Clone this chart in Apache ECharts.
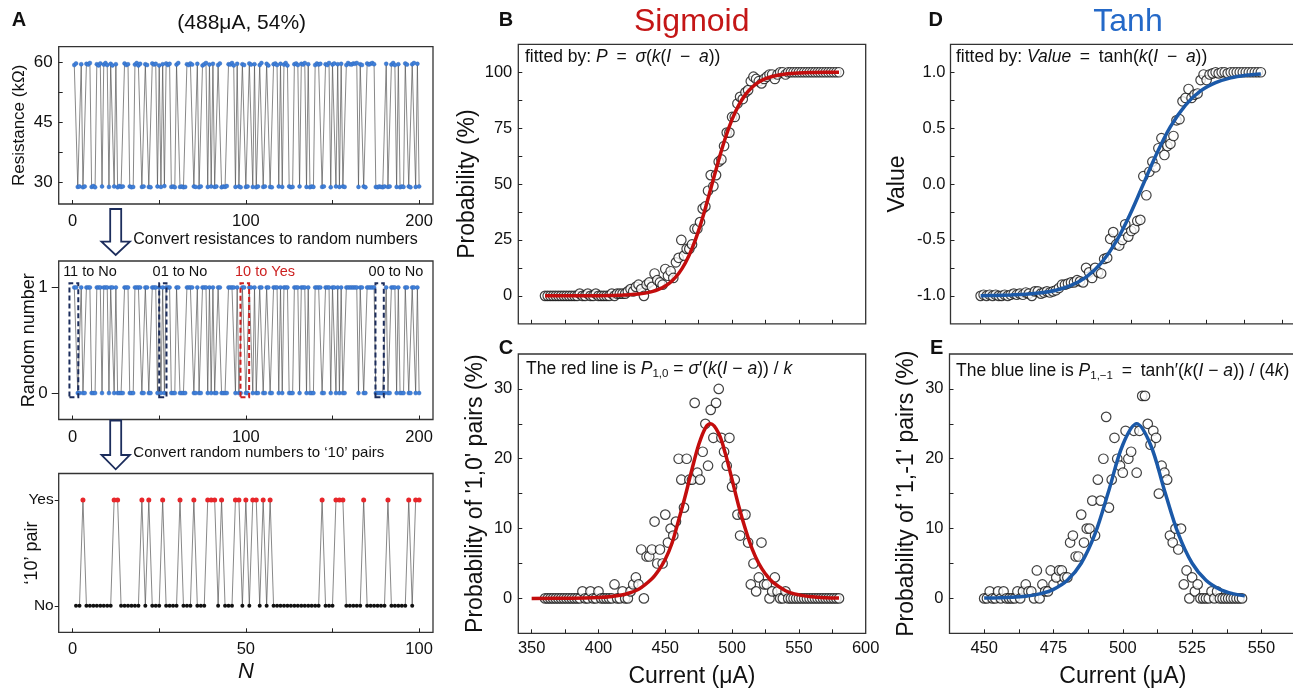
<!DOCTYPE html>
<html><head><meta charset="utf-8">
<script src="https://cdn.jsdelivr.net/npm/echarts@6/dist/echarts.min.js"></script>
<style>html,body{margin:0;padding:0;background:#fff}#c{width:1293px;height:688px}</style>
</head><body><div id="c"></div><script>
// ---------------- data ----------------
const resistance = [
59.4,59.8,28.8,28.9,59.6,28.7,28.9,59.7,59.5,59.9,28.8,29.0,28.7,59.6,59.3,59.8,28.9,59.5,59.9,59.4,
28.8,59.7,59.3,28.9,59.6,28.7,29.0,28.8,28.9,59.8,59.4,59.6,28.9,28.7,28.8,59.5,59.9,59.3,59.7,28.8,
28.9,59.6,59.4,28.8,28.7,59.8,59.5,59.7,28.9,59.3,28.8,59.6,29.0,59.8,59.4,59.7,28.8,28.9,28.7,59.5,
59.9,28.8,28.9,28.7,28.8,59.6,59.4,59.8,59.5,28.9,28.8,59.7,28.7,28.9,59.3,59.6,59.9,28.8,59.5,28.9,
59.7,28.8,28.9,59.4,59.8,28.7,28.9,28.8,29.0,59.6,59.5,59.9,59.3,28.8,59.7,28.9,28.7,59.6,59.4,28.8,
28.9,59.8,59.5,28.8,59.6,28.7,28.9,59.4,59.9,28.8,28.9,59.7,59.3,28.8,28.7,59.6,59.8,59.4,28.9,59.7,
28.8,59.5,59.9,59.3,28.9,28.7,28.8,59.6,59.8,59.4,28.9,59.7,59.5,59.9,28.8,59.6,28.7,28.9,28.8,59.4,
59.8,59.5,59.7,28.8,28.9,59.6,59.4,59.9,28.7,59.5,59.8,28.9,59.6,28.8,59.7,28.9,28.8,59.4,59.9,59.6,
59.5,59.8,59.7,59.9,28.8,59.6,59.4,28.9,28.7,59.8,59.5,59.7,59.9,59.6,28.8,28.7,28.9,28.8,28.7,28.9,
59.7,28.8,28.9,59.5,59.9,59.4,28.8,59.6,28.7,28.9,28.8,59.8,59.5,28.9,28.7,59.6,59.9,28.8,59.7,28.9];

const randomBits = [
1,1,0,0,1,0,0,1,1,1,0,0,0,1,1,1,0,1,1,1,
0,1,1,0,1,0,0,0,0,1,1,1,0,0,0,1,1,1,1,0,
0,1,1,0,0,1,1,1,0,1,0,1,0,1,1,1,0,0,0,1,
1,0,0,0,0,1,1,1,1,0,0,1,0,0,1,1,1,0,1,0,
1,0,0,1,1,0,0,0,0,1,1,1,1,0,1,0,0,1,1,0,
0,1,1,0,1,0,0,1,1,0,0,1,1,0,0,1,1,1,0,1,
0,1,1,1,0,0,0,1,1,1,0,1,1,1,0,1,0,0,0,1,
1,1,1,0,0,1,1,1,0,1,1,0,1,0,1,0,0,1,1,1,
1,1,1,1,0,1,1,0,0,1,1,1,1,1,0,0,0,0,0,0,
1,0,0,1,1,1,0,1,0,0,0,1,1,0,0,1,1,0,1,0];

const pairYes = [
0,0,1,0,0,0,0,0,0,0,
0,1,1,0,0,0,0,0,0,1,
0,1,0,0,0,1,0,0,0,0,
1,0,0,0,1,0,0,0,1,1,
1,0,1,0,0,0,1,1,0,1,
0,1,1,0,1,0,1,0,0,0,
0,0,0,0,0,0,0,0,0,0,
0,1,0,0,0,1,1,1,0,0,
0,0,0,1,0,0,0,0,0,0,
1,0,0,0,0,0,1,0,1,1];

const currentBC = [360,362,364,366,368,370,372,374,376,378,380,382,384,386,388,390,392,394,396,398,
400,402,404,406,408,410,412,414,416,418,420,422,424,426,428,430,432,434,436,438,
440,442,444,446,448,450,452,454,456,458,460,462,464,466,468,470,472,474,476,478,
480,482,484,486,488,490,492,494,496,498,500,502,504,506,508,510,512,514,516,518,
520,522,524,526,528,530,532,534,536,538,540,542,544,546,548,550,552,554,556,558,
560,562,564,566,568,570,572,574,576,578,580];

const probB = [0,0,0,0,0,0,0,0,0,0,
0,0,0,1,0,0,1,0,0,1,
0,0,0,0,0,1,0,1,1,1,
1,2,3,2,4,5,3,0,5,6,
4,10,7,6,5,12,9,11,8,15,
17,25,18,21,21,23,30,30,33,39,
40,47,54,49,54,60,61,67,73,73,
80,80,86,89,88,91,92,96,98,97,
96,95,97,98,99,99,97,99,100,100,
99,100,100,100,100,100,100,100,100,100,
100,100,100,100,100,100,100,100,100,100,100];

const probC = [0,0,0,0,0,0,0,0,0,0,
0,0,0,0,1,0,0,1,0,0,
1,0,0,0,0,0,2,0,0,1,
0,0,1,2,3,2,7,0,6,6,
7,11,5,7,5,12,8,10,9,11,
20,17,13,20,17,17,28,18,17,21,
25,19,27,23,28,30,23,21,19,23,
16,17,12,9,12,12,8,2,5,1,
3,8,2,2,0,1,3,1,0,0,
1,0,0,0,0,0,0,0,0,0,
0,0,0,0,0,0,0,0,0,0,0];

const currentDE = [450,451,452,453,454,455,456,457,458,459,460,461,462,463,464,465,466,467,468,469,
470,471,472,473,474,475,476,477,478,479,480,481,482,483,484,485,486,487,488,489,
490,491,492,493,494,495,496,497,498,499,500,501,502,503,504,505,506,507,508,509,
510,511,512,513,514,515,516,517,518,519,520,521,522,523,524,525,526,527,528,529,
530,531,532,533,534,535,536,537,538,539,540,541,542,543];

const valueD = [-1.00,-0.99,-1.00,-0.99,-1.00,-0.99,-1.00,-1.00,-0.99,-1.00,
-0.99,-0.98,-0.99,-0.98,-0.99,-0.97,-0.98,-1.00,-0.96,-0.96,
-0.98,-0.97,-0.96,-0.97,-0.96,-0.95,-0.93,-0.90,-0.90,-0.89,
-0.88,-0.88,-0.86,-0.87,-0.88,-0.75,-0.79,-0.84,-0.75,-0.79,
-0.80,-0.67,-0.66,-0.49,-0.43,-0.54,-0.55,-0.50,-0.36,-0.47,
-0.42,-0.40,-0.33,-0.32,0.07,-0.10,0.11,0.20,0.15,0.32,
0.41,0.26,0.34,0.36,0.43,0.57,0.58,0.74,0.77,0.85,
0.77,0.80,0.81,0.93,0.98,0.93,0.98,0.99,1.00,0.99,
1.00,1.00,0.99,1.00,1.00,1.00,1.00,1.00,1.00,1.00,
1.00,1.00,1.00,1.00];

const probE = [0,0,1,0,0,1,0,1,0,0,
0,0,1,0,1,2,1,1,0,4,
0,2,1,1,4,2,3,4,4,3,
3,8,9,6,6,12,8,10,10,14,
9,17,14,20,26,13,17,23,20,19,
18,24,20,21,24,18,24,29,29,25,
22,24,23,15,19,18,17,9,8,10,
7,10,2,4,0,3,1,2,0,0,
0,0,1,0,1,0,0,0,0,0,
0,0,0,0];

// fitted curves
const sigFitI = [360,380,400,410,420,430,435,440,445,450,455,460,465,470,475,480,485,490,495,500,505,510,515,520,525,530,540,550,560,570,580];
const sigFitP = [0,0.01,0.06,0.14,0.33,0.78,1.21,1.87,2.87,4.39,6.66,9.98,14.7,21.1,29.3,39.2,50,60.8,70.7,78.9,85.3,90.0,93.3,95.6,97.1,98.1,99.2,99.7,99.9,100,100];
const pairFitI = [350,380,400,410,420,430,440,445,450,455,460,465,470,475,480,484,490,495,500,505,510,515,520,525,530,540,550,560,570,580];
const pairFitP = [0,0.02,0.12,0.27,0.59,1.3,2.8,4.0,5.6,7.9,11.2,14.7,18.5,22.0,24.4,25.0,23.6,20.7,17.0,13.2,9.9,7.1,5.0,3.5,2.4,1.1,0.5,0.22,0.1,0.05];
const tanhFitI = [450,455,460,465,470,475,480,485,490,495,500,504,508,513,518,523,528,533,538,543];
const tanhFitV = [-0.998,-0.996,-0.992,-0.986,-0.973,-0.950,-0.907,-0.832,-0.707,-0.513,-0.247,0,0.247,0.513,0.707,0.833,0.907,0.950,0.973,0.985];
const tanhPairI = [450,455,460,465,470,475,480,485,490,495,500,505,510,515,520,525,530,535,540,544];
const tanhPairP = [0.04,0.08,0.15,0.31,0.64,1.3,2.59,5.03,9.27,15.5,22.0,25.0,22.0,15.5,9.27,5.03,2.59,1.3,0.64,0.36];

// tick labels
const ticksResLabel = [30,45,60], ticksRes = [30,37.5,45,52.5,60];
const ticksNLabel = [0,100,200], ticksN = [0,50,100,150,200];
const ticksPairNLabel = [0,50,100], ticksPairN = [0,25,50,75,100];
const ticksBinLabel = [0,1];
const pairLabels = ['No','Yes'];
const ticksProbLabel = [0,25,50,75,100], ticksProb = [0,12.5,25,37.5,50,62.5,75,87.5,100];
const ticksCurBCLabel = [350,400,450,500,550,600], ticksCurBC = [350,375,400,425,450,475,500,525,550,575];
const ticksPairPLabel = [0,10,20,30], ticksPairP = [0,5,10,15,20,25,30];
const ticksValLabel = [-1,-0.5,0,0.5,1], ticksVal = [-1,-0.75,-0.5,-0.25,0,0.25,0.5,0.75,1];
const ticksCurDLabel = [450,475,500,525,550], ticksCurD = [450,462.5,475,487.5,500,512.5,525,537.5,550];

// ---------------- chart ----------------
const FONT = '"Liberation Sans", Arial, Helvetica, sans-serif';
const INK = '#111';
const zip = (a, b) => a.map((v, i) => [v, b[i]]);

function axis(o) {
  return {
    type: 'value', gridIndex: o.grid, min: o.min, max: o.max, position: o.pos,
    axisLine: {show: false, onZero: false}, splitLine: {show: false},
    axisTick: {show: true, inside: o.out ? false : true, length: o.tickLen || 4,
      lineStyle: {color: '#222', width: 1}, customValues: o.ticks},
    axisLabel: {show: !!o.labels, customValues: o.labels || [], formatter: o.fmt,
      fontSize: o.fs || 16.5, color: INK, fontFamily: FONT, margin: o.margin == null ? 7 : o.margin},
    name: o.name || '', nameLocation: 'middle', nameGap: o.nameGap || 20, nameMoveOverlap: false,
    nameTextStyle: {fontSize: o.nameFs || 16, color: INK, fontFamily: FONT, fontStyle: o.nameItalic ? 'italic' : 'normal'}
  };
}

const gridBase = {show: true, borderColor: '#333', borderWidth: 1.3, backgroundColor: 'transparent', containLabel: false, outerBoundsMode: 'none'};
const grids = [
  {left: 58.7, top: 46.7, width: 374.3, height: 157.3},
  {left: 58.7, top: 261, width: 374.3, height: 158.5},
  {left: 58.7, top: 473.5, width: 374.3, height: 158.8},
  {left: 518.3, top: 44.3, width: 347.4, height: 279.5},
  {left: 518.3, top: 354, width: 347.4, height: 279.3},
  {left: 950.5, top: 44.3, width: 346.5, height: 279.5},
  {left: 949.5, top: 354, width: 346.6, height: 279.3}
].map(g => Object.assign({}, gridBase, g));

const xAxes = [
  axis({grid: 0, min: -8, max: 208, labels: ticksNLabel, ticks: ticksN, margin: 9}),
  axis({grid: 1, min: -8, max: 208, labels: ticksNLabel, ticks: ticksN, margin: 9}),
  axis({grid: 2, min: -4, max: 104, labels: ticksPairNLabel, ticks: ticksPairN, margin: 9, name: 'N', nameGap: 29, nameFs: 22, nameItalic: true}),
  axis({grid: 3, min: 340, max: 600, ticks: ticksCurBC}),
  axis({grid: 4, min: 340, max: 600, labels: ticksCurBCLabel, ticks: ticksCurBC, margin: 7, name: 'Current (μA)', nameGap: 32, nameFs: 23}),
  axis({grid: 5, min: 440, max: 555, ticks: ticksCurD}),
  axis({grid: 6, min: 437.5, max: 562.5, labels: ticksCurDLabel, ticks: ticksCurD, margin: 7, name: 'Current (μA)', nameGap: 32, nameFs: 23})
];
const yAxes = [
  axis({grid: 0, min: 24.5, max: 64, labels: ticksResLabel, ticks: ticksRes, margin: 6, fs: 17, name: 'Resistance (kΩ)', nameGap: 31, nameFs: 17}),
  axis({grid: 1, min: -0.25, max: 1.25, labels: ticksBinLabel, ticks: ticksBinLabel, out: true, tickLen: 7, margin: 11, fs: 17, name: 'Random number', nameGap: 21, nameFs: 18}),
  axis({grid: 2, min: -0.25, max: 1.25, labels: ticksBinLabel, ticks: ticksBinLabel, out: true, tickLen: 4, margin: 5, fs: 15.5,
        fmt: v => pairLabels[v], name: '\u201810\u2019 pair', nameGap: 18, nameFs: 18}),
  axis({grid: 3, min: -12.5, max: 112.5, labels: ticksProbLabel, ticks: ticksProb, margin: 6, name: 'Probability (%)', nameGap: 39, nameFs: 23}),
  axis({grid: 4, min: -5, max: 35, labels: ticksPairPLabel, ticks: ticksPairP, margin: 6, name: "Probability of '1,0' pairs (%)", nameGap: 31, nameFs: 23}),
  axis({grid: 5, min: -1.25, max: 1.25, labels: ticksValLabel, ticks: ticksVal, margin: 5, fmt: v => v.toFixed(1), name: 'Value', nameGap: 41, nameFs: 23}),
  axis({grid: 6, min: -5, max: 35, labels: ticksPairPLabel, ticks: ticksPairP, margin: 6, name: "Probability of '1,-1' pairs (%)", nameGap: 31, nameFs: 23})
];

const NAVY = '#1c2d5c';
const boxStyle = c => ({color: 'rgba(0,0,0,0)', borderColor: c, borderWidth: 2, borderType: [5, 3]});

const binLine = {color: '#555', width: 0.7};
const blueDot = {color: '#3f80da', borderColor: '#2a5fb3', borderWidth: 0.4};
const hollow = {color: '#fff', borderColor: '#111', borderWidth: 1.2};

const series = [
  {type: 'line', xAxisIndex: 0, yAxisIndex: 0, data: resistance.map((r, i) => [i + 1, r]),
   symbol: 'circle', symbolSize: 4, showAllSymbol: true, itemStyle: blueDot, lineStyle: binLine, z: 2},
  {type: 'line', xAxisIndex: 1, yAxisIndex: 1, data: randomBits.map((b, i) => [i + 1, b]),
   symbol: 'circle', symbolSize: 4, showAllSymbol: true, itemStyle: blueDot, lineStyle: binLine, z: 2,
   markArea: {silent: true, z: 5, data: [
     [{xAxis: -1.8, yAxis: -0.04, itemStyle: boxStyle(NAVY)}, {xAxis: 3.3, yAxis: 1.04}],
     [{xAxis: 50.0, yAxis: -0.04, itemStyle: boxStyle(NAVY)}, {xAxis: 54.2, yAxis: 1.04}],
     [{xAxis: 96.9, yAxis: -0.04, itemStyle: boxStyle('#cc1f1f')}, {xAxis: 101.9, yAxis: 1.04}],
     [{xAxis: 174.8, yAxis: -0.04, itemStyle: boxStyle(NAVY)}, {xAxis: 179.6, yAxis: 1.04}]
   ]}},
  {type: 'line', xAxisIndex: 2, yAxisIndex: 2, data: pairYes.map((b, i) => [i + 1, b]),
   symbol: 'circle', showAllSymbol: true, symbolSize: v => v[1] === 1 ? 5 : 4,
   itemStyle: {color: p => p.value[1] === 1 ? '#e8262a' : '#111'}, lineStyle: binLine},
  // B
  {type: 'scatter', xAxisIndex: 3, yAxisIndex: 3, data: zip(currentBC, probB), symbol: 'circle', symbolSize: 9.5, itemStyle: hollow, z: 2},
  {type: 'line', xAxisIndex: 3, yAxisIndex: 3, data: zip(sigFitI, sigFitP), smooth: 0.35, showSymbol: false,
   lineStyle: {color: '#c30d0d', width: 3.5}, z: 3},
  // C
  {type: 'scatter', xAxisIndex: 4, yAxisIndex: 4, data: zip(currentBC, probC), symbol: 'circle', symbolSize: 9.5, itemStyle: hollow, z: 2},
  {type: 'line', xAxisIndex: 4, yAxisIndex: 4, data: zip(pairFitI, pairFitP), smooth: 0.35, showSymbol: false,
   lineStyle: {color: '#c30d0d', width: 3.5}, z: 3},
  // D
  {type: 'scatter', xAxisIndex: 5, yAxisIndex: 5, data: zip(currentDE, valueD), symbol: 'circle', symbolSize: 9.5, itemStyle: hollow, z: 2},
  {type: 'line', xAxisIndex: 5, yAxisIndex: 5, data: zip(tanhFitI, tanhFitV), smooth: 0.35, showSymbol: false,
   lineStyle: {color: '#1b59a8', width: 3.5}, z: 3},
  // E
  {type: 'scatter', xAxisIndex: 6, yAxisIndex: 6, data: zip(currentDE, probE), symbol: 'circle', symbolSize: 9.5, itemStyle: hollow, z: 2},
  {type: 'line', xAxisIndex: 6, yAxisIndex: 6, data: zip(tanhPairI, tanhPairP), smooth: 0.35, showSymbol: false,
   lineStyle: {color: '#1b59a8', width: 3.5}, z: 3}
];

function txt(x, y, text, o) {
  o = o || {};
  return {type: 'text', x: x, y: y, z: 100, silent: true,
    style: {text: text, fontSize: o.fs || 16, fontFamily: FONT, fill: o.fill || INK,
      fontWeight: o.bold ? 'bold' : 'normal', align: o.align || 'left', verticalAlign: 'middle', rich: o.rich}};
}
const fRich = fs => ({
  n: {fontSize: fs, lineHeight: 22, fontFamily: FONT, fill: INK},
  i: {fontSize: fs, lineHeight: 22, fontFamily: FONT, fill: INK, fontStyle: 'italic'},
  s: {fontSize: fs - 6, lineHeight: 11, fontFamily: FONT, fill: INK, verticalAlign: 'bottom'}
});
function arrow(x0, yTop, yHead, yTip) {
  return {type: 'polygon', z: 100, silent: true,
    shape: {points: [[x0 - 5.5, yTop], [x0 + 5.5, yTop], [x0 + 5.5, yHead], [x0 + 14.2, yHead], [x0, yTip], [x0 - 14.2, yHead], [x0 - 5.5, yHead]]},
    style: {fill: '#fff', stroke: NAVY, lineWidth: 1.8}};
}
const SP = '\u2002';

const graphic = [
  txt(19, 20, 'A', {bold: true, fs: 20, align: 'center'}),
  txt(241.7, 23, '(488μA, 54%)', {fs: 21, align: 'center'}),
  arrow(115.7, 209, 241.7, 255),
  txt(133.3, 239.3, 'Convert resistances to random numbers', {fs: 16}),
  arrow(115.7, 420.5, 455, 469.3),
  txt(133.3, 452.7, 'Convert random numbers to \u201810\u2019 pairs', {fs: 15}),
  txt(90, 272, '11 to No', {fs: 14.5, align: 'center'}),
  txt(180, 272, '01 to No', {fs: 14.5, align: 'center'}),
  txt(265, 272, '10 to Yes', {fs: 14.5, align: 'center', fill: '#cc1f1f'}),
  txt(396, 272, '00 to No', {fs: 14.5, align: 'center'}),
  txt(506, 20, 'B', {bold: true, fs: 20, align: 'center'}),
  txt(691.7, 22, 'Sigmoid', {fs: 32, align: 'center', fill: '#c41616'}),
  txt(506, 348, 'C', {bold: true, fs: 20, align: 'center'}),
  txt(935.7, 20, 'D', {bold: true, fs: 20, align: 'center'}),
  txt(1128, 22, 'Tanh', {fs: 32, align: 'center', fill: '#2469c8'}),
  txt(936.7, 348, 'E', {bold: true, fs: 20, align: 'center'}),
  txt(525, 57, '{n|fitted by: }{i|P}{n|' + SP + '=' + SP + '}{i|σ}{n|(}{i|k}{n|(}{i|I}{n|' + SP + '−' + SP + '}{i|a}{n|))}', {rich: fRich(17.5)}),
  txt(526, 369, '{n|The red line is }{i|P}{s|1,0}{n| = }{i|σ}{n|′(}{i|k}{n|(}{i|I}{n| − }{i|a}{n|)) / }{i|k}', {rich: fRich(17.5)}),
  txt(956, 57, '{n|fitted by: }{i|Value}{n|' + SP + '=' + SP + 'tanh(}{i|k}{n|(}{i|I}{n|' + SP + '−' + SP + '}{i|a}{n|))}', {rich: fRich(17.5)}),
  txt(956, 371, '{n|The blue line is }{i|P}{s|1,−1}{n|' + SP + '=' + SP + 'tanh′(}{i|k}{n|(}{i|I}{n| − }{i|a}{n|)) / (4}{i|k}{n|)}', {rich: fRich(17.5)})
];

const chart = echarts.init(document.getElementById('c'));
chart.setOption({
  animation: false, backgroundColor: '#fff',
  textStyle: {fontFamily: FONT},
  grid: grids, xAxis: xAxes, yAxis: yAxes, series: series, graphic: graphic
});
</script></body></html>
